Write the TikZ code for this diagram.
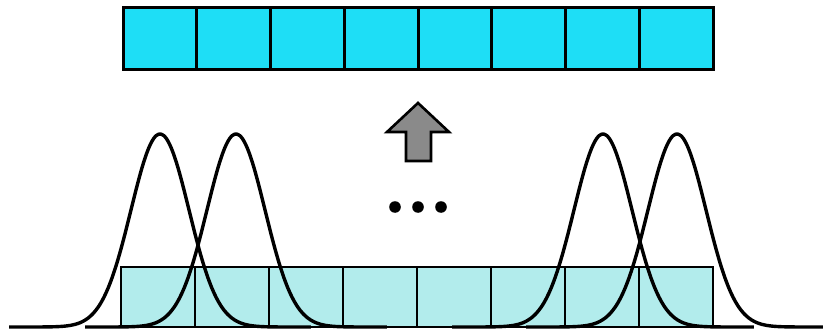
\documentclass[tikz,border=0pt]{standalone}
\usepackage{xcolor}
\usepackage{tikz}
\usetikzlibrary{positioning}

\begin{document}
\begin{tikzpicture}[x=1pt, y=-1pt, line width=3pt, line join=miter,
    every node/.style={inner sep=0pt, outer sep=0pt},
    cell/.style={draw=black, minimum width=73.75pt, minimum height=62pt},
    bell/.style={line width=3.4pt, line join=round}]
      \definecolor{topbg}{RGB}{30,222,246}
      \definecolor{botbg}{RGB}{178,236,236} \definecolor{arrowbg}{RGB}{138,138,138}
      \useasboundingbox[fill=white] (0,0) rectangle (823,329);
      % output row
      \node[cell, fill=topbg] (top1) at (159.9,39) {};
      \foreach \i [count=\j from 1] in {2,...,8}
        \node[cell, fill=topbg, right=0pt of top\j] (top\i) {};
      % input row
      \node[cell, fill=botbg, minimum width=74pt, minimum height=60pt, line width=2.8pt] (bot1) at (158,297) {};
      \foreach \i [count=\j from 1] in {2,...,8}
        \node[cell, fill=botbg, minimum width=74pt, minimum height=60pt, line width=2.8pt, right=0pt of bot\j] (bot\i) {};
      % kernels
      \foreach \p in {160,236,603,677}
        \draw[bell] plot[domain=-5.2:5.2, samples=120, smooth] ({\p+29*\x}, {327-193*exp(-\x*\x/2)});
      % arrow and dots
      \draw[fill=arrowbg, line width=2.6pt] (406,161) -- (406,132) -- (387,132) -- (418,103)
        -- (449,132) -- (431,132) -- (431,161) -- cycle;
      \foreach \d in {395,418,441}
        \fill (\d,207) circle (5.8pt);
    \end{tikzpicture}
\end{document}
